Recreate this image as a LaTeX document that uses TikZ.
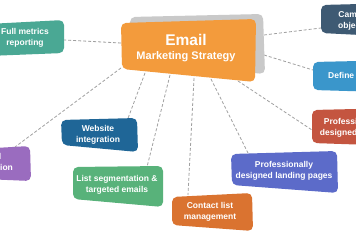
\documentclass[tikz,border=0pt]{standalone}
\usepackage{fontspec}
\setmainfont{Liberation Sans}
\definecolor{cOrange}{HTML}{F39B3C}
\definecolor{cShadow}{HTML}{C9C9C9}
\definecolor{cTeal}{HTML}{4AA894}
\definecolor{cSlate}{HTML}{3E5A73}
\definecolor{cDefine}{HTML}{3A96CB}
\definecolor{cRed}{HTML}{C45540}
\definecolor{cWeb}{HTML}{1F6697}
\definecolor{cList}{HTML}{58B27A}
\definecolor{cContact}{HTML}{DA7330}
\definecolor{cLanding}{HTML}{5C6BC9}
\definecolor{cPurple}{HTML}{9A6CBF}
\definecolor{cLink}{HTML}{A0A0A0}
\tikzset{
  box/.style={rounded corners=5pt},
  lbl/.style={text=white, font=\bfseries\fontsize{8.5}{11}\selectfont, align=center, inner sep=0pt},
  link/.style={draw=cLink, line width=0.8pt, dash pattern=on 3pt off 2pt},
}
\begin{document}
\begin{tikzpicture}[x=1pt,y=-1pt]
\useasboundingbox (0,0) rectangle (356,237);
\clip (0,0) rectangle (356,237);
\fill[white] (0,0) rectangle (356,237);

% connector end points
\coordinate (cL) at (121,43);   \coordinate (tealR) at (64,40);
\coordinate (cBL) at (121,68);  \coordinate (purT) at (15,147);
\coordinate (cB1) at (145,73);  \coordinate (webT) at (127,121);
\coordinate (cB2) at (170,75);  \coordinate (listT) at (147,167);
\coordinate (cB3) at (194,78);  \coordinate (conT) at (188,195);
\coordinate (cB4) at (211,79);  \coordinate (landT) at (248,153);
\coordinate (cB5) at (238,81);  \coordinate (redL) at (312,130);
\coordinate (cR1) at (264,55);  \coordinate (defL) at (313,70);
\coordinate (cR2) at (264,35);  \coordinate (campL) at (321,28);

\draw[link] (cL) -- (tealR);
\draw[link] (cBL) -- (purT);
\draw[link] (cB1) -- (webT);
\draw[link] (cB2) -- (listT);
\draw[link] (cB3) -- (conT);
\draw[link] (cB4) -- (landT);
\draw[link] (cB5) -- (redL);
\draw[link] (cR1) -- (defL);
\draw[link] (cR2) -- (campL);

% boxes
\fill[box, cShadow] (130,17) -- (263,14) -- (265,74) -- (131,62) -- cycle;
\fill[box, cOrange] (121,23) -- (256,19) -- (255,82) -- (122,69) -- cycle;
\fill[box, cTeal] (-12,24) -- (64,20) -- (64,53) -- (-12,56) -- cycle;
\fill[box, cSlate] (321,5) -- (400,3) -- (400,37) -- (321,33) -- cycle;
\fill[box, cDefine] (313,62) -- (450,59) -- (450,94) -- (313,90) -- cycle;
\fill[box, cRed] (312,110) -- (400,108) -- (400,146) -- (312,143) -- cycle;
\fill[box, cPurple] (-40,150) -- (30,146) -- (31,181) -- (-40,178) -- cycle;
\fill[box, cWeb] (61,120) -- (137,118) -- (138,152) -- (62,145) -- cycle;
\fill[box, cList] (73,167) -- (163,166) -- (163,207) -- (73,199) -- cycle;
\fill[box, cContact] (172,197) -- (252,193) -- (253,231) -- (172,225) -- cycle;
\fill[box, cLanding] (231,154) -- (337,151) -- (338,193) -- (232,185) -- cycle;

% labels
\node[lbl, font=\bfseries\fontsize{15.5}{17}\selectfont] (email) at (186,40) {Email};
\node[lbl, font=\bfseries\fontsize{11}{13}\selectfont] (mkt) at (186,57) {Marketing Strategy};
\node[lbl] (teal) at (25,37.5) {Full metrics\\reporting};
\node[lbl] (camp) at (359,21) {Campaign\\objectives};
\node[lbl, anchor=west] (define) at (328,76) {Define target audience};
\node[lbl] (red) at (353,127.5) {Professionally\\designed emails};
\node[lbl] (purple) at (-10,161.5) {Email\\automation};
\node[lbl] (web) at (98,134.5) {Website\\integration};
\node[lbl] (list) at (117,185) {List segmentation \&\\targeted emails};
\node[lbl] (contact) at (210,211.5) {Contact list\\management};
\node[lbl] (landing) at (284,171) {Professionally\\designed landing pages};
\end{tikzpicture}
\end{document}
